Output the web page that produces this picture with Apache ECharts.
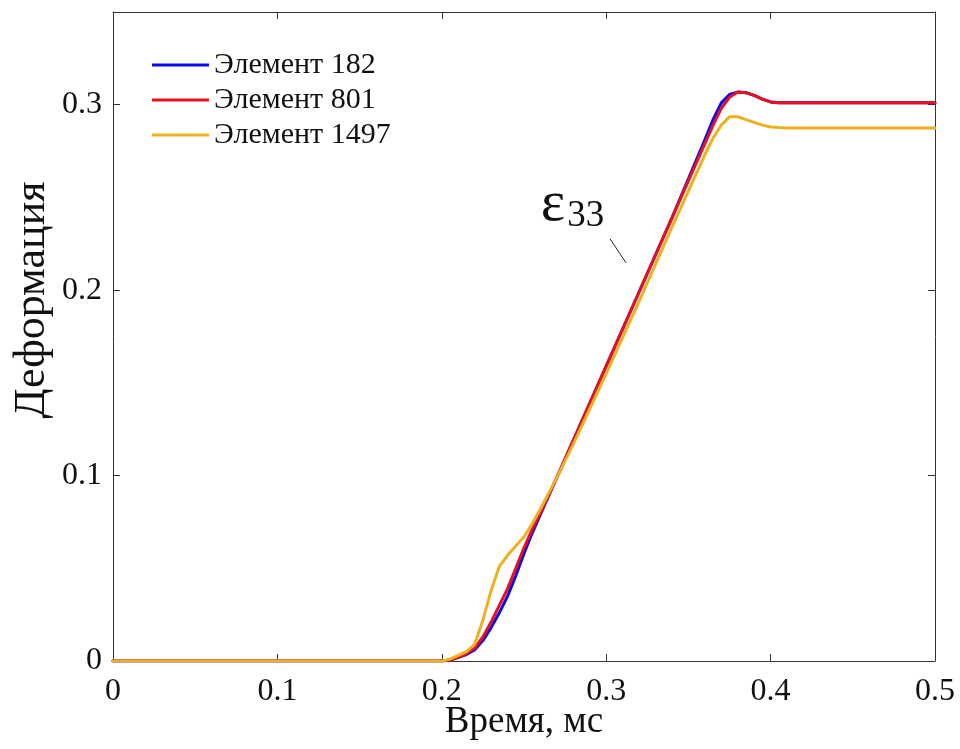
<!DOCTYPE html>
<html>
<head>
<meta charset="utf-8">
<script src="https://cdn.jsdelivr.net/npm/echarts@6/dist/echarts.min.js"></script>
<style>
  html, body { margin: 0; padding: 0; background: #fff; }
  #chart { width: 960px; height: 749px; }
</style>
</head>
<body>
<div id="chart"></div>
<script>
// Sample times, ms
const time = [0, 0.05, 0.1, 0.15, 0.2, 0.205, 0.21, 0.215, 0.22, 0.225, 0.23, 0.235, 0.24, 0.245,
  0.25, 0.255, 0.26, 0.27, 0.28, 0.3, 0.32, 0.34, 0.36, 0.365, 0.37, 0.375, 0.38, 0.385,
  0.39, 0.395, 0.4, 0.405, 0.41, 0.42, 0.45, 0.5];

// Strain ε33 for three elements
const elem182 = [0, 0, 0, 0, 0, 0.0005, 0.002, 0.0035, 0.006, 0.011, 0.018, 0.026, 0.035, 0.046,
  0.058, 0.069, 0.079, 0.099, 0.119, 0.159, 0.199, 0.239, 0.281, 0.292, 0.301, 0.3055, 0.3068, 0.3065,
  0.305, 0.303, 0.3015, 0.301, 0.301, 0.301, 0.301, 0.301];
const elem801 = [0, 0, 0, 0, 0, 0.0005, 0.002, 0.004, 0.007, 0.013, 0.021, 0.030, 0.039, 0.050,
  0.061, 0.071, 0.080, 0.099, 0.119, 0.159, 0.199, 0.239, 0.279, 0.289, 0.298, 0.304, 0.3068, 0.3065,
  0.305, 0.303, 0.3015, 0.301, 0.301, 0.301, 0.301, 0.301];
const elem1497 = [0, 0, 0, 0, 0, 0.001, 0.003, 0.005, 0.009, 0.022, 0.038, 0.051, 0.057, 0.062,
  0.067, 0.074, 0.082, 0.099, 0.117, 0.155, 0.194, 0.234, 0.273, 0.282, 0.289, 0.2935, 0.2935, 0.292,
  0.2905, 0.289, 0.288, 0.2877, 0.2875, 0.2875, 0.2875, 0.2875];

const seriesNames = ['Элемент 182', 'Элемент 801', 'Элемент 1497'];
const seriesColors = ['#0a0af0', '#e8101c', '#edb120'];

// Annotation: label position and leader line (data coordinates)
const labelAt = [0.2795, 0.246];
const leader = [[0.3023, 0.2277], [0.312, 0.2148]];

const xTicks = { min: 0, max: 0.5, step: 0.1 };
const yTicks = { min: 0, max: 0.35, step: 0.1 };

const FONT = '"Liberation Serif", "DejaVu Serif", serif';
const AX = '#333333';

function pairs(vals) { return time.map((t, i) => [t, vals[i]]); }

function fmt(v, step) {
  const k = Math.round(v / step);
  if (Math.abs(k * step - v) > 1e-9) return '';
  const r = Math.round(v * 10) / 10;
  return r === 0 ? '0' : String(r);
}

const boxAxis = (pos, isX) => ({
  type: 'value',
  position: pos,
  min: isX ? xTicks.min : yTicks.min,
  max: isX ? xTicks.max : yTicks.max,
  interval: isX ? xTicks.step : yTicks.step,
  axisLine: { show: true, onZero: false, lineStyle: { color: AX, width: 1 } },
  axisTick: { show: true, inside: true, length: 7, lineStyle: { color: AX, width: 1 } },
  axisLabel: { show: false },
  splitLine: { show: false }
});

const chart = echarts.init(document.getElementById('chart'), null, { renderer: 'canvas' });

const lineSeries = [elem182, elem801, elem1497].map((vals, i) => ({
  name: seriesNames[i],
  type: 'line',
  data: pairs(vals),
  showSymbol: false,
  symbol: 'none',
  smooth: false,
  lineStyle: { color: seriesColors[i], width: 3, join: 'round', cap: 'round' },
  itemStyle: { color: seriesColors[i] },
  z: 2 + i
}));

lineSeries[1].markPoint = {
  symbol: 'rect',
  symbolSize: 1,
  silent: true,
  itemStyle: { color: 'rgba(0,0,0,0)' },
  data: [{ coord: labelAt, value: 0 }],
  label: {
    show: true,
    position: 'inside',
    formatter: '{e|ε}{s|33}',
    rich: {
      e: { fontFamily: FONT, fontSize: 58, color: '#111' },
      s: { fontFamily: FONT, fontSize: 37, color: '#111', padding: [22, 0, 0, 2] }
    }
  }
};
lineSeries[1].markLine = {
  symbol: 'none',
  silent: true,
  label: { show: false },
  lineStyle: { color: '#222', width: 1, type: 'solid' },
  data: [[{ coord: leader[0] }, { coord: leader[1] }]]
};

chart.setOption({
  animation: false,
  backgroundColor: '#ffffff',
  grid: { left: 113, top: 12, right: 25, bottom: 88, containLabel: false, outerBoundsMode: 'none' },
  legend: {
    orient: 'vertical',
    left: 147,
    top: 44,
    padding: 5,
    itemWidth: 57,
    itemHeight: 3,
    itemGap: 3,
    icon: 'rect',
    data: seriesNames,
    textStyle: { fontFamily: FONT, fontSize: 30, color: '#111', lineHeight: 32 }
  },
  graphic: [{
    type: 'text',
    x: 32,
    y: 300,
    rotation: Math.PI / 2,
    style: {
      text: 'Деформация',
      fontFamily: FONT,
      fontSize: 44,
      fill: '#111',
      align: 'center',
      verticalAlign: 'middle'
    }
  }],
  xAxis: [
    Object.assign(boxAxis('bottom', true), {
      name: 'Время, мс',
      nameLocation: 'middle',
      nameGap: 43,
      nameMoveOverlap: false,
      nameTextStyle: { fontFamily: FONT, fontSize: 37, color: '#111' },
      axisLabel: {
        show: true, fontFamily: FONT, fontSize: 32, color: '#111', margin: 15,
        formatter: v => fmt(v, xTicks.step)
      }
    }),
    boxAxis('top', true)
  ],
  yAxis: [
    Object.assign(boxAxis('left', false), {
      axisLabel: {
        show: true, fontFamily: FONT, fontSize: 32, color: '#111', margin: 11,
        showMaxLabel: false,
        formatter: v => fmt(v, yTicks.step)
      }
    }),
    boxAxis('right', false)
  ],
  series: lineSeries
});
</script>
</body>
</html>
